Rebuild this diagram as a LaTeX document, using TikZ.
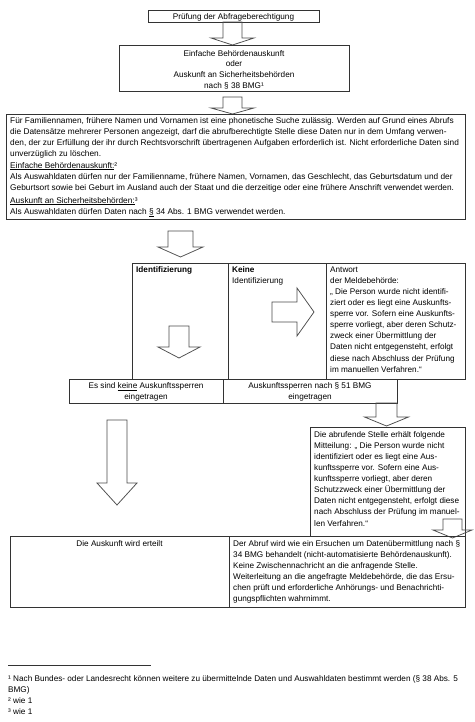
\documentclass[tikz,border=0pt]{standalone}
\usepackage{fontspec}
\setmainfont{Liberation Sans}
\newcommand{\downblock}[6]{% cx, shaft half, head half, ytop, ybase, ytip
  \draw[arr] ({#1-#2},#4) -- ({#1-#2},#5) -- ({#1-#3},#5) -- (#1,#6) -- ({#1+#3},#5) -- ({#1+#2},#5) -- ({#1+#2},#4) -- cycle;}
\newcommand{\fl}{\rule{0pt}{8pt}}
\begin{document}
\begin{tikzpicture}[x=1pt,y=-1pt,
  box/.style={draw=black!80, line width=0.75pt},
  arr/.style={draw=black!70, line width=0.75pt},
  txt/.style={inner sep=0pt, font=\fontsize{8.2}{11.1}\selectfont, align=left, anchor=north west},
  bigtxt/.style={txt, font=\fontsize{8.3}{11.1}\selectfont},
  ctxt/.style={inner sep=0pt, font=\fontsize{8.2}{10.8}\selectfont, align=center, anchor=north}]
\useasboundingbox (0,0) rectangle (474,722);
\fill[white] (0,0) rectangle (474,722);

% box 1
\draw[box] (148,10) rectangle (319,22);
\node[ctxt] (t1) at (233.5,11) {\fl Prüfung der Abfrageberechtigung};
\downblock{232.5}{9.5}{21.5}{22}{38}{45}

% box 2
\draw[box] (119,45) rectangle (349,91);
\node[ctxt] (t2) at (234,48) {\fl Einfache Behördenauskunft\\oder\\Auskunft an Sicherheitsbehörden\\nach § 38 BMG¹};
\downblock{232.5}{9.5}{21.5}{97}{108}{114}

% box 3
\draw[box] (6,114) rectangle (465,219);
\node[bigtxt] (p1) at (10,115) {\fl Für Familiennamen, frühere Namen und Vornamen ist eine phonetische Suche zulässig. Werden auf Grund eines Abrufs\\
die Datensätze mehrerer Personen angezeigt, darf die abrufberechtigte Stelle diese Daten nur in dem Umfang verwen-\\
den, der zur Erfüllung der ihr durch Rechtsvorschrift übertragenen Aufgaben erforderlich ist. Nicht erforderliche Daten sind\\
unverzüglich zu löschen.};
\node[bigtxt] (p2) at (10,160) {\fl\underline{Einfache Behördenauskunft:}²\\
Als Auswahldaten dürfen nur der Familienname, frühere Namen, Vornamen, das Geschlecht, das Geburtsdatum und der\\
Geburtsort sowie bei Geburt im Ausland auch der Staat und die derzeitige oder eine frühere Anschrift verwendet werden.};
\node[bigtxt] (p3) at (10,195) {\fl\underline{Auskunft an Sicherheitsbehörden:}³\\
Als Auswahldaten dürfen Daten nach \underline{§} 34 Abs. 1 BMG verwendet werden.};
\downblock{180.5}{12.5}{22.5}{231}{247}{257}

% table
\draw[box] (132,263) rectangle (465,379);
\draw[box] (228,263) -- (228,379);
\draw[box] (326,263) -- (326,379);
\node[txt] (c1) at (136,264) {\fl\textbf{Identifizierung}};
\node[txt] (c2) at (232,264) {\fl\textbf{Keine}\\Identifizierung};
\node[txt] (c3) at (330,264) {\fl Antwort\\der Meldebehörde:\\„ Die Person wurde nicht identifi-\\ziert oder es liegt eine Auskunfts-\\sperre vor. Sofern eine Auskunfts-\\sperre vorliegt, aber deren Schutz-\\zweck einer Übermittlung der\\Daten nicht entgegensteht, erfolgt\\diese nach Abschluss der Prüfung\\im manuellen Verfahren.“};
\downblock{179}{10}{21}{326}{347}{358}
\draw[arr] (272,302) -- (297,302) -- (297,288) -- (314,312) -- (297,336) -- (297,322) -- (272,322) -- cycle;

% row 2
\draw[box] (69,379) rectangle (397,403);
\draw[box] (223,379) -- (223,403);
\node[ctxt] (r1) at (146,380.5) {\fl Es sind \underline{keine} Auskunftssperren\\eingetragen};
\node[ctxt] (r2) at (310,380.5) {\fl Auskunftssperren nach § 51 BMG\\eingetragen};
\downblock{117}{10}{20}{420}{483}{505}
\downblock{386.5}{10.5}{22}{403}{417}{426}

% box abrufende Stelle
\draw[box] (310,427) rectangle (465,536);
\node[txt] (m1) at (314,429) {\fl Die abrufende Stelle erhält folgende\\Mitteilung: „ Die Person wurde nicht\\identifiziert oder es liegt eine Aus-\\kunftssperre vor. Sofern eine Aus-\\kunftssperre vorliegt, aber deren\\Schutzzweck einer Übermittlung der\\Daten nicht entgegensteht, erfolgt diese\\nach Abschluss der Prüfung im manuel-\\len Verfahren.“};
\downblock{452.5}{9.5}{19.5}{519}{530}{538}

% bottom row
\draw[box] (10,536) rectangle (465,607);
\draw[box] (229,536) -- (229,607);
\node[ctxt] (b1) at (119.5,538) {\fl Die Auskunft wird erteilt};
\node[txt] (b2) at (233,538) {\fl Der Abruf wird wie ein Ersuchen um Datenübermittlung nach §\\34 BMG behandelt (nicht-automatisierte Behördenauskunft).\\Keine Zwischennachricht an die anfragende Stelle.\\Weiterleitung an die angefragte Meldebehörde, die das Ersu-\\chen prüft und erforderliche Anhörungs- und Benachrichti-\\gungspflichten wahrnimmt.};

% footnotes
\coordinate (fa) at (8,665);
\coordinate (fb) at (151,665);
\draw[black!80, line width=0.75pt] (fa) -- (fb);
\node[txt] (f1) at (8,673) {\fl ¹ Nach Bundes- oder Landesrecht können weitere zu übermittelnde Daten und Auswahldaten bestimmt werden (§ 38 Abs. 5\\BMG)\\² wie 1\\³ wie 1};
\end{tikzpicture}
\end{document}
